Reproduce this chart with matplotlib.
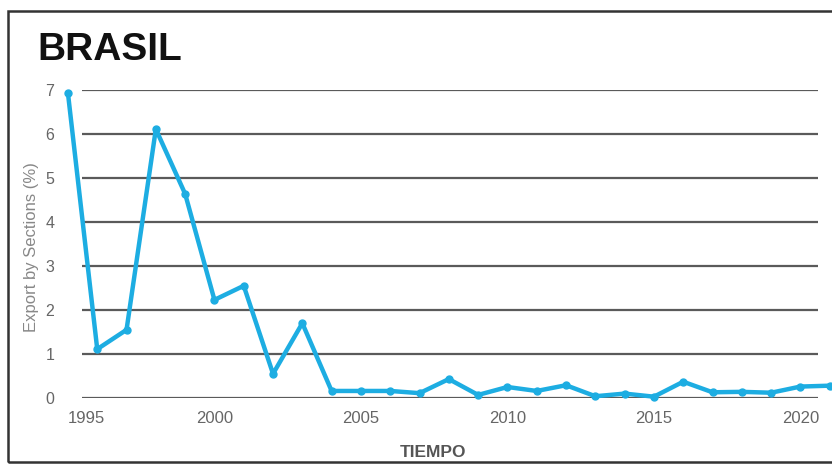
import matplotlib
matplotlib.use("Agg")
import matplotlib.pyplot as plt
from matplotlib.patches import Rectangle

plt.rcParams['font.family'] = ['Liberation Sans', 'DejaVu Sans']

years = list(range(1995, 2022))
values = [6.93, 1.11, 1.55, 6.11, 4.64, 2.23, 2.55, 0.55, 1.70, 0.16,
          0.16, 0.16, 0.11, 0.43, 0.07, 0.25, 0.16, 0.29, 0.04, 0.10,
          0.03, 0.37, 0.13, 0.14, 0.12, 0.26, 0.28]
xticks = [1995, 2000, 2005, 2010, 2015, 2020]
yticks = [0, 1, 2, 3, 4, 5, 6, 7]
title = "BRASIL"
xlabel = "TIEMPO"
ylabel = "Export by Sections (%)"

W, H = 832, 465
fig = plt.figure(figsize=(W / 100, H / 100), dpi=100)
ax = fig.add_axes([82 / W, 1 - 398 / H, (818 - 82) / W, (398 - 90) / H])

ax.yaxis.grid(True, color='#5a5a5a', linewidth=1.6)
ax.set_axisbelow(True)
for s in ax.spines.values():
    s.set_visible(False)

ax.plot(years, values, color='#1DADE2', linewidth=3.2, marker='o',
        markersize=5, clip_on=False, solid_joinstyle='round', zorder=3)

ax.set_yticks(yticks)
ax.set_yticklabels([str(v) for v in yticks])
ax.set_xticks(xticks[1:])
ax.set_xticklabels([str(v) for v in xticks[1:]])
ax.set_xlim(1995.48, 2020.6)
ax.set_ylim(0, 7)
ax.tick_params(axis='y', length=0, pad=20, labelsize=11.5, labelcolor='#666666')
ax.tick_params(axis='x', length=0, pad=9, labelsize=12, labelcolor='#666666')
# first x label lies left of the plotting area; drawn shifted right as in reference
ax.annotate(str(xticks[0]), xy=(xticks[0], 0), xycoords=('data', 'axes fraction'),
            xytext=(13, -9), textcoords='offset points', ha='center', va='top',
            fontsize=12, color='#666666', annotation_clip=False)

ax.set_ylabel(ylabel, fontsize=12, color='#888888')
ax.yaxis.set_label_coords(-(82 - 39) / (818 - 82), (398 - 247) / (398 - 90))
fig.text(433 / W, 1 - 452 / H, xlabel, ha='center', va='center',
         fontsize=12.5, fontweight='bold', color='#555555')
fig.text(37 / W, 1 - 50 / H, title, ha='left', va='center',
         fontsize=28, fontweight='bold', color='#111111')

fig.patches.append(Rectangle((8 / W, 1 - 462 / H), (900 - 8) / W, (462 - 11) / H,
                             transform=fig.transFigure, fill=False,
                             edgecolor='#333333', linewidth=1.8))

fig.savefig('out.png', dpi=100)
